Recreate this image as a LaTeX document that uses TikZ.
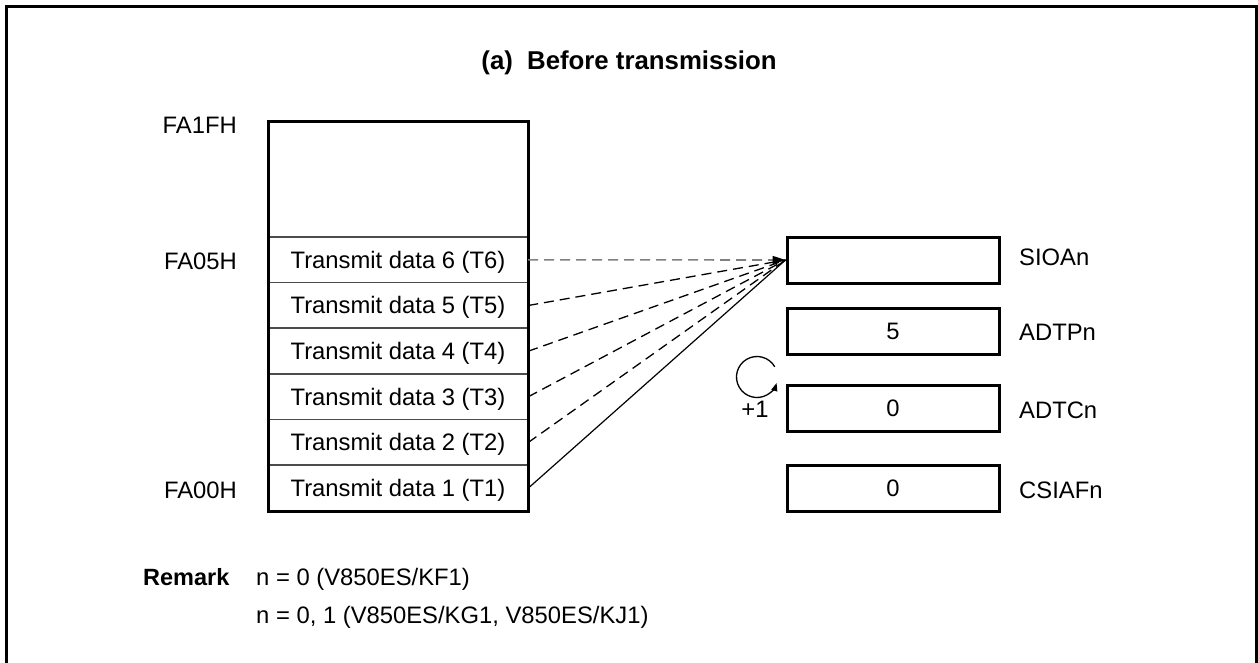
\documentclass[tikz,border=0pt]{standalone}
\usepackage{fontspec}
\setmainfont{Liberation Sans}
\usetikzlibrary{arrows.meta}
\tikzset{
  txt/.style={inner sep=0pt, text height=16.8pt, text depth=0pt, font=\fontsize{23.8}{28}\selectfont},
  row/.style={txt, minimum width=260pt, minimum height=45.67pt},
  regbox/.style={txt, draw, line width=3pt, minimum width=212pt, minimum height=46pt},
  sep/.style={line width=1.5pt, black!70},
  feed/.style={line width=1.3pt, dash pattern=on 10pt off 6pt},
}
\begin{document}
\begin{tikzpicture}[x=1pt,y=-1pt]
\clip (0,0) rectangle (1258,662);
\fill[white] (0,0) rectangle (1258,662);
\draw[line width=3pt] (6.5,6.5) rectangle (1256,720);
\node[txt, font=\fontsize{25.8}{30}\selectfont\bfseries] (title) at (629,61) {(a)\hspace{0.55em}Before transmission};
% memory
\node[row] (t6) at (398,259.8) {Transmit data 6 (T6)};
\node[row] (t5) at (398,305.5) {Transmit data 5 (T5)};
\node[row] (t4) at (398,351.2) {Transmit data 4 (T4)};
\node[row] (t3) at (398,396.8) {Transmit data 3 (T3)};
\node[row] (t2) at (398,442.5) {Transmit data 2 (T2)};
\node[row] (t1) at (398,488.2) {Transmit data 1 (T1)};
\foreach \r in {t6,t5,t4,t3,t2,t1} \draw[sep] (\r.north west) -- (\r.north east);
\draw[line width=3pt] (268,121) rectangle (528,511);
% address labels
\node[txt, anchor=east] (a1f) at (237,125) {FA1FH};
\node[txt, anchor=east] (a05) at (237,261) {FA05H};
\node[txt, anchor=east] (a00) at (237,490) {FA00H};
% registers
\node[regbox] (sioa) at (893,260) {};
\node[regbox] (adtp) at (893,331.5) {5};
\node[regbox] (adtc) at (893,408.5) {0};
\node[regbox] (csiaf) at (893,488) {0};
\node[txt, anchor=west] (lsioa) at (1019,257) {SIOAn};
\node[txt, anchor=west] (ladtp) at (1019,332) {ADTPn};
\node[txt, anchor=west] (ladtc) at (1019,410) {ADTCn};
\node[txt, anchor=west] (lcsiaf) at (1019,490) {CSIAFn};
% connectors
\draw[feed, black!50, line width=1.6pt, -{Triangle[length=13pt,width=8pt,color=black,fill=black]}] (t6.east) -- (sioa.west);
\draw[feed] (t5.east) -- (sioa.west);
\draw[feed] (t4.east) -- (sioa.west);
\draw[feed] (t3.east) -- (sioa.west);
\draw[feed] (t2.east) -- (sioa.west);
\draw[line width=1.2pt] (t1.east) -- (sioa.west);
% increment loop
\coordinate (loopstart) at (774.75,366.75);
\draw[line width=1.3pt, -{Triangle[length=8pt,width=6pt]}] (loopstart) arc[start angle=-30, end angle=-343, radius=20.5];
\node[txt] (plus) at (755,409) {+1};
% remark
\node[txt, anchor=west, font=\fontsize{23.5}{28}\selectfont\bfseries] (rem) at (143,577) {Remark};
\node[txt, anchor=west] (r1) at (256,577) {n = 0 (V850ES/KF1)};
\node[txt, anchor=west] (r2) at (256,615) {n = 0, 1 (V850ES/KG1, V850ES/KJ1)};
\end{tikzpicture}
\end{document}
